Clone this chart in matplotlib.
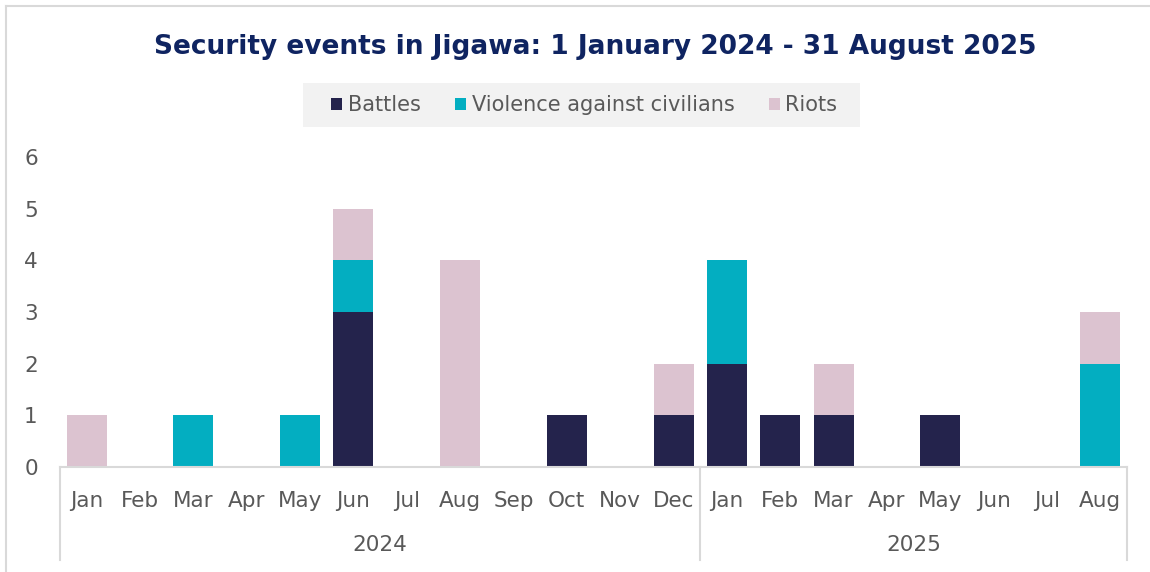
import matplotlib.pyplot as plt
from matplotlib.lines import Line2D
from matplotlib.patches import Rectangle
import numpy as np

months = ['Jan', 'Feb', 'Mar', 'Apr', 'May', 'Jun', 'Jul', 'Aug', 'Sep', 'Oct', 'Nov', 'Dec',
          'Jan', 'Feb', 'Mar', 'Apr', 'May', 'Jun', 'Jul', 'Aug']
years = ['2024', '2025']
year_len = [12, 8]

battles = [0, 0, 0, 0, 0, 3, 0, 0, 0, 1, 0, 1, 2, 1, 1, 0, 1, 0, 0, 0]
violence = [0, 0, 1, 0, 1, 1, 0, 0, 0, 0, 0, 0, 2, 0, 0, 0, 0, 0, 0, 2]
riots = [1, 0, 0, 0, 0, 1, 0, 4, 0, 0, 0, 1, 0, 0, 1, 0, 0, 0, 0, 1]

c_bat = '#24234C'
c_vac = '#03AEC1'
c_riot = '#DCC3D0'
grey = '#595959'
line_c = '#D9D9D9'

fig = plt.figure(figsize=(11.5, 5.72), dpi=100)
ax = fig.add_axes([0.0522, 0.1836, 0.9278, 0.5419])

x = np.arange(len(months))
b = np.array(battles)
v = np.array(violence)
r = np.array(riots)
ax.bar(x, b, width=0.75, color=c_bat, label='Battles')
ax.bar(x, v, width=0.75, bottom=b, color=c_vac, label='Violence against civilians')
ax.bar(x, r, width=0.75, bottom=b + v, color=c_riot, label='Riots')

ax.set_xlim(-0.5, len(months) - 0.5)
ax.set_ylim(0, 6)
ax.set_yticks(range(7))
ax.tick_params(axis='y', length=0, labelsize=15.5, labelcolor=grey, pad=16)
ax.set_xticks(x)
ax.set_xticklabels(months)
ax.tick_params(axis='x', length=0, labelsize=15.5, labelcolor=grey, pad=17)

for s in ['top', 'right', 'left']:
    ax.spines[s].set_visible(False)
ax.spines['bottom'].set_color(line_c)
ax.spines['bottom'].set_linewidth(1.5)

# year groups under the month labels
trans = ax.get_xaxis_transform()
start = -0.5
edges = [start]
for yr, n in zip(years, year_len):
    ax.text(start + n / 2, -0.252, yr, transform=trans, ha='center', va='center',
            fontsize=15.5, color=grey)
    start += n
    edges.append(start)
for e in edges:
    ax.plot([e, e], [0, -0.30], transform=trans, color=line_c, lw=1.5, clip_on=False)

fig.text(0.518, 0.918, 'Security events in Jigawa: 1 January 2024 - 31 August 2025',
         ha='center', va='center', fontsize=19, fontweight='bold', color='#0F2461')

# grey band behind the legend
fig.add_artist(Rectangle((303 / 1150, 1 - 127 / 572), 557 / 1150, 44 / 572,
                         transform=fig.transFigure, facecolor='#F2F2F2',
                         edgecolor='none', zorder=1))
leg = fig.legend(loc='center', bbox_to_anchor=(0.508, 0.816), ncol=3, fontsize=15,
                 frameon=False, handlelength=0.55, handleheight=0.55,
                 handletextpad=0.25, columnspacing=1.65)
for t in leg.get_texts():
    t.set_color(grey)

# outer frame (top and left edges visible)
fig.add_artist(Line2D([6 / 1150, 6 / 1150], [0, 1 - 6 / 572], transform=fig.transFigure,
                      color=line_c, lw=1.5))
fig.add_artist(Line2D([6 / 1150, 1], [1 - 6 / 572, 1 - 6 / 572], transform=fig.transFigure,
                      color=line_c, lw=1.5))

fig.savefig('out.png', dpi=100, facecolor='white')
